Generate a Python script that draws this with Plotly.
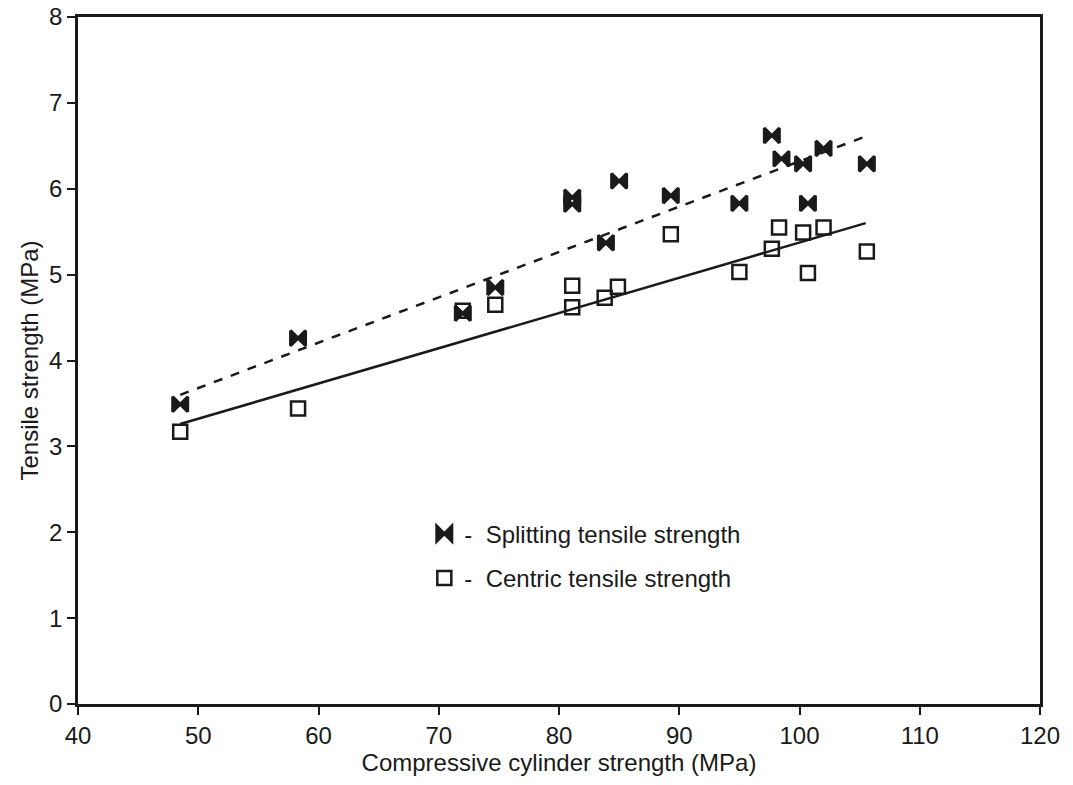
import plotly.graph_objects as go

# Splitting tensile strength (filled bowtie markers)
split_x = [48.5, 58.3, 72.0, 74.7, 81.1, 81.1, 83.9, 85.0, 89.3, 95.0, 97.7, 98.5, 100.3, 100.7, 102.0, 105.6]
split_y = [3.49, 4.26, 4.55, 4.85, 5.82, 5.90, 5.37, 6.09, 5.92, 5.83, 6.62, 6.35, 6.29, 5.83, 6.47, 6.29]

# Centric tensile strength (open square markers)
cent_x = [48.5, 58.3, 72.0, 74.7, 81.1, 81.1, 83.8, 84.9, 89.3, 95.0, 97.7, 98.3, 100.3, 100.7, 102.0, 105.6]
cent_y = [3.17, 3.44, 4.58, 4.65, 4.87, 4.62, 4.73, 4.86, 5.47, 5.03, 5.30, 5.55, 5.49, 5.02, 5.55, 5.27]

# Regression lines (endpoints)
fit_x = [48.5, 105.5]
split_fit = [3.60, 6.61]
cent_fit = [3.26, 5.60]

x_ticks = [40, 50, 60, 70, 80, 90, 100, 110, 120]
y_ticks = [0, 1, 2, 3, 4, 5, 6, 7, 8]

ink = "#1a1a1a"
font_family = "Liberation Sans, Arial, sans-serif"

fig = go.Figure()
fig.add_trace(go.Scatter(x=fit_x, y=split_fit, mode="lines",
                         line=dict(color=ink, width=2.5, dash="dash"), showlegend=False))
fig.add_trace(go.Scatter(x=fit_x, y=cent_fit, mode="lines",
                         line=dict(color=ink, width=2.5), showlegend=False))
fig.add_trace(go.Scatter(x=cent_x, y=cent_y, mode="markers",
                         name="-  Centric tensile strength", legendgroup="c", legendrank=2,
                         marker=dict(symbol="square-open", size=14, color=ink,
                                     line=dict(width=2.5, color=ink))))
fig.add_trace(go.Scatter(x=split_x, y=split_y, mode="markers",
                         name="-  Splitting tensile strength", legendgroup="s", legendrank=1,
                         marker=dict(symbol="bowtie", size=15, color=ink,
                                     line=dict(width=3, color=ink))))

fig.update_layout(
    width=1073, height=785,
    margin=dict(l=78, r=33, t=17, b=81),
    paper_bgcolor="white", plot_bgcolor="white",
    font=dict(family=font_family, size=23, color=ink),
    showlegend=True,
    legend=dict(x=0.36, y=0.28, xanchor="left", yanchor="top",
                traceorder="grouped", bgcolor="rgba(0,0,0,0)",
                font=dict(size=24, color=ink), itemwidth=30,
                tracegroupgap=10),
    xaxis=dict(range=[40, 120], tickvals=x_ticks, ticks="outside", ticklen=8,
               tickwidth=2, tickcolor=ink, showline=True, linecolor=ink, linewidth=2.5,
               mirror=True, showgrid=False, zeroline=False, automargin=False,
               tickfont=dict(size=24),
               title=dict(text="Compressive cylinder strength (MPa)", standoff=6,
                          font=dict(size=24))),
    yaxis=dict(range=[0, 8], tickvals=y_ticks, ticks="outside", ticklen=8,
               tickwidth=2, tickcolor=ink, showline=True, linecolor=ink, linewidth=2.5,
               mirror=True, showgrid=False, zeroline=False, automargin=False,
               tickfont=dict(size=24),
               title=dict(text="Tensile strength (MPa)", standoff=4,
                          font=dict(size=24))),
)

fig.write_html("out.html")
